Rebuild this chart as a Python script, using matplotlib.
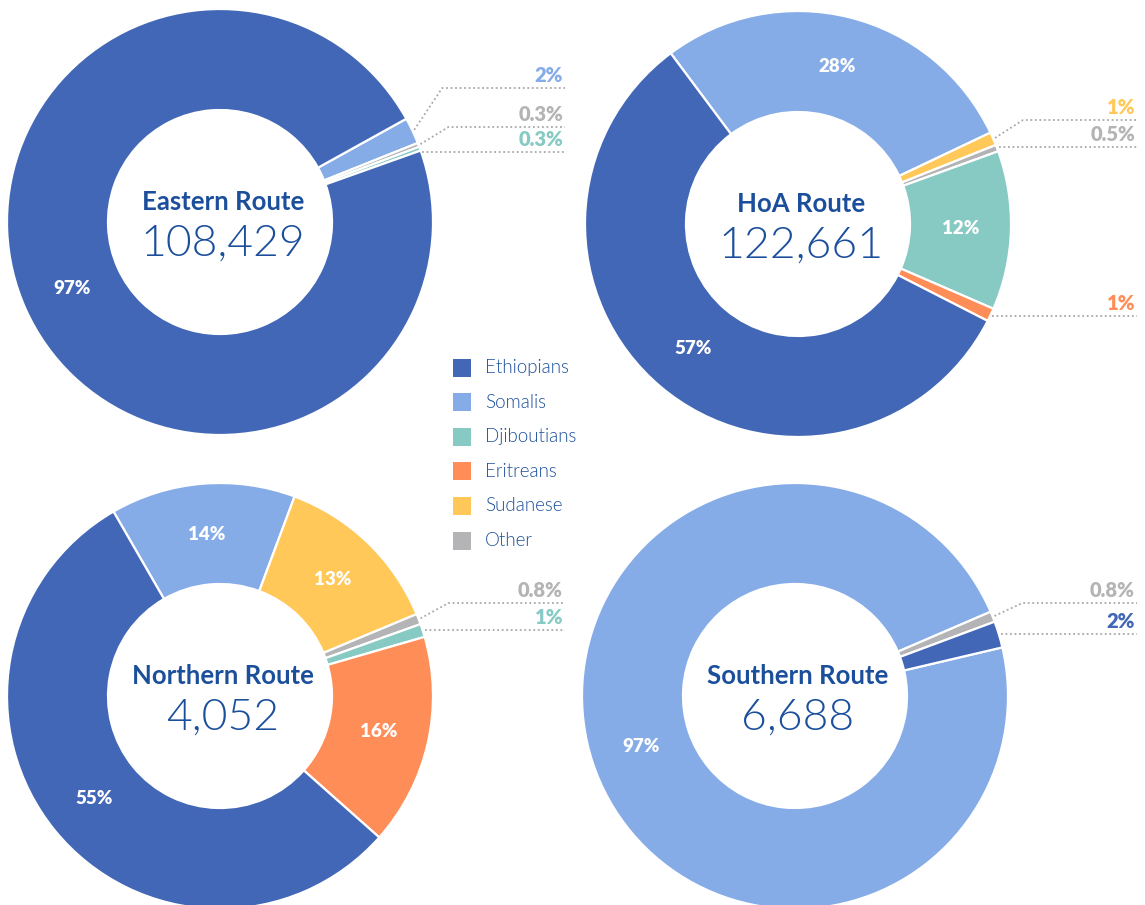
import numpy as np
import matplotlib.pyplot as plt

plt.rcParams["font.family"] = ["Lato", "DejaVu Sans"]

# ── Data ──────────────────────────────────────────────────────
colors = {
    "Ethiopians":  "#4267B6",
    "Somalis":     "#86ACE8",
    "Djiboutians": "#86CAC3",
    "Eritreans":   "#FF8D57",
    "Sudanese":    "#FFC858",
    "Other":       "#B4B4B6",
}
legend_order = ["Ethiopians", "Somalis", "Djiboutians", "Eritreans", "Sudanese", "Other"]

routes = ["Eastern Route", "HoA Route", "Northern Route", "Southern Route"]
totals = ["108,429", "122,661", "4,052", "6,688"]

eastern_cats = ["Somalis", "Other", "Djiboutians", "Ethiopians"]
eastern_vals = [2, 0.3, 0.3, 97]
eastern_lbls = ["2%", "0.3%", "0.3%", "97%"]

hoa_cats = ["Somalis", "Sudanese", "Other", "Djiboutians", "Eritreans", "Ethiopians"]
hoa_vals = [28, 1, 0.5, 12, 1, 57]
hoa_lbls = ["28%", "1%", "0.5%", "12%", "1%", "57%"]

northern_cats = ["Somalis", "Sudanese", "Other", "Djiboutians", "Eritreans", "Ethiopians"]
northern_vals = [14, 13, 0.8, 1, 16, 55]
northern_lbls = ["14%", "13%", "0.8%", "1%", "16%", "55%"]

southern_cats = ["Somalis", "Other", "Ethiopians"]
southern_vals = [97, 0.8, 2]
southern_lbls = ["97%", "0.8%", "2%"]

# ── Layout (pixel units, y up) ────────────────────────────────
W, H = 1145, 905
R, RING = 213, 101
charts = [
    # cats, vals, labels, center, startangle, outside labels {index: (line y, elbow)}, line end x
    (eastern_cats, eastern_vals, eastern_lbls, (220, 683), 29.0,
     {0: (817, True), 1: (778, True), 2: (753, False)}, 565),
    (hoa_cats, hoa_vals, hoa_lbls, (798, 681), 126.7,
     {1: (785, True), 2: (758, False), 4: (589, False)}, 1137),
    (northern_cats, northern_vals, northern_lbls, (220, 209), 120.0,
     {2: (302, True), 3: (275, False)}, 565),
    (southern_cats, southern_vals, southern_lbls, (795, 209), 13.2,
     {1: (302, True), 2: (271, False)}, 1137),
]

fig = plt.figure(figsize=(W / 100, H / 100), dpi=100)
ax = fig.add_axes([0, 0, 1, 1])

title_col = "#1B4F9C"
dots = dict(color="#A8A8A8", linestyle=(0, (1, 1.5)), linewidth=1.3)

for (cats, vals, lbls, center, start, outside, xend), name, total in zip(charts, routes, totals):
    wedges, _ = ax.pie(vals, colors=[colors[c] for c in cats], startangle=start,
                       counterclock=False, radius=R, center=center,
                       wedgeprops=dict(width=RING, edgecolor="white", linewidth=1.6))
    cx, cy = center
    for i, w in enumerate(wedges):
        mid = np.deg2rad((w.theta1 + w.theta2) / 2)
        if i in outside:
            ly, elbow = outside[i]
            sx = cx + (R + 2) * np.cos(mid)
            sy = cy + (R + 2) * np.sin(mid)
            if elbow:
                ax.plot([sx, sx + 28, xend], [sy, ly, ly], **dots)
            else:
                ax.plot([sx, xend], [ly, ly], **dots)
            ax.text(xend - 2, ly + 3, lbls[i], ha="right", va="bottom",
                    fontsize=14.5, fontweight="heavy", color=colors[cats[i]])
        else:
            rm = R - RING / 2
            ax.text(cx + rm * np.cos(mid), cy + rm * np.sin(mid), lbls[i],
                    ha="center", va="center", fontsize=13.5,
                    fontweight="heavy", color="white")
    ax.text(cx + 3, cy + 20, name, ha="center", va="center",
            fontsize=18.5, fontweight="bold", color=title_col)
    ax.text(cx + 3, cy - 22, total, ha="center", va="center",
            fontsize=32, fontweight=300, color=title_col)

# Legend
for k, cat in enumerate(legend_order):
    y = 905 - 368 - k * 34.5
    ax.scatter([462], [y], marker="s", s=150, color=colors[cat], linewidths=0)
    ax.text(485, y, cat, ha="left", va="center", fontsize=13.5,
            fontweight=300, color=title_col)

ax.set_xlim(0, W)
ax.set_ylim(0, H)
ax.set_aspect("equal")
ax.axis("off")

fig.savefig("out.png", dpi=100, facecolor="white")
